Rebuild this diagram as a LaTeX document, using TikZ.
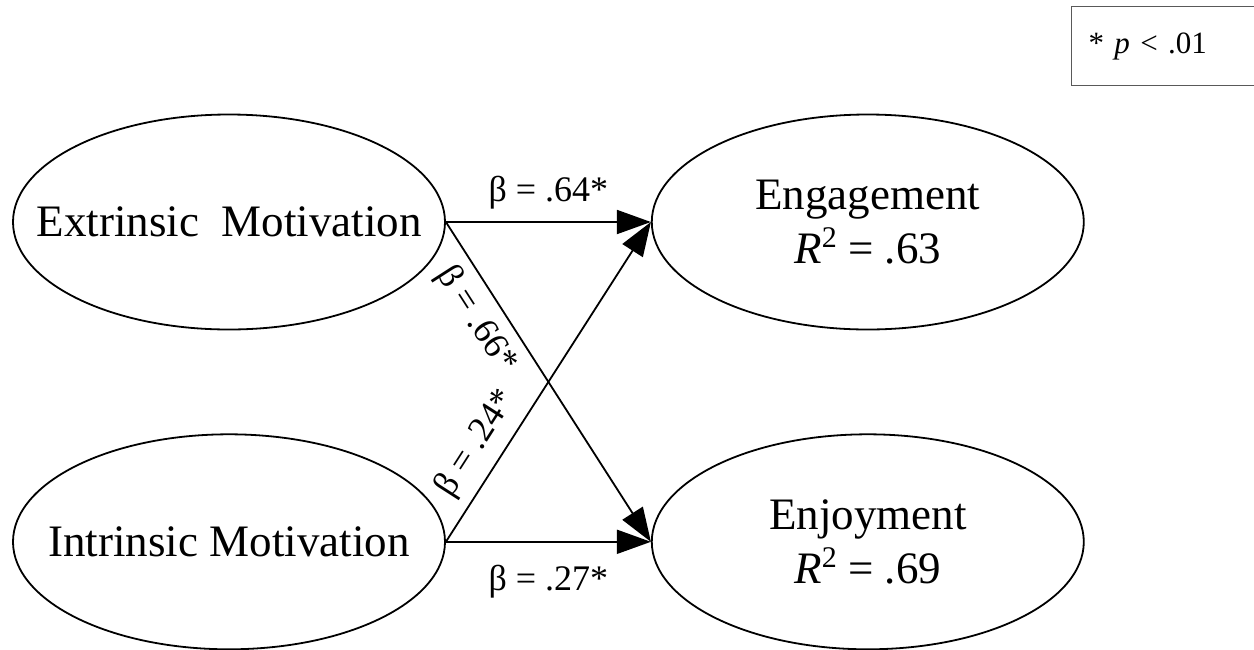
\documentclass[tikz,border=0pt]{standalone}
\usepackage{fontspec}
\setmainfont{Liberation Serif}
\usepackage{tikz}
\usetikzlibrary{arrows.meta, positioning, shapes.geometric}

\newcommand{\rsq}{\textit{R}\raisebox{.36em}{\fontsize{30}{30}\selectfont 2}}

\begin{document}
\begin{tikzpicture}[
    x=1pt, y=-1pt,
    latent/.style={draw, ellipse, line width=1.8pt, align=center,
                   minimum width=432pt, minimum height=215pt,
                   inner xsep=-120pt, inner ysep=-20pt,
                   font=\fontsize{45}{54}\selectfont},
    path/.style={-{Triangle[length=34pt, width=24pt]}, line width=1.8pt},
    coef/.style={font=\fontsize{36}{42}\selectfont, inner sep=2pt}
  ]
    \useasboundingbox (0,0) rectangle (1254,649);

    \node[latent] (extr) at (229,222) {Extrinsic\ \ Motivation};
    \node[latent, below=103pt of extr] (intr) {Intrinsic Motivation};
    \node[latent, right=205pt of extr] (engage) {Engagement\\\rsq{} = .63};
    \node[latent, right=205pt of intr] (enjoy) {Enjoyment\\\rsq{} = .69};

    % legend
    \node[draw=black!65, line width=1.2pt, anchor=north west,
          minimum width=184pt, minimum height=79pt, text width=150pt,
          inner xsep=17pt, align=left, font=\fontsize{31}{38}\selectfont]
      (note) at (1071,6) {* \textit{p} < .01};

    \draw[path] (extr.east) -- node[coef, above=10pt] {β = .64*} (engage.west);
    \draw[path] (extr.east) -- node[coef, sloped, pos=.26, below=8pt] {β = .66*} (enjoy.west);
    \draw[path] (intr.east) -- node[coef, sloped, pos=.26, above=8pt] {β = .24*} (engage.west);
    \draw[path] (intr.east) -- node[coef, below=20pt] {β = .27*} (enjoy.west);
\end{tikzpicture}
\end{document}
